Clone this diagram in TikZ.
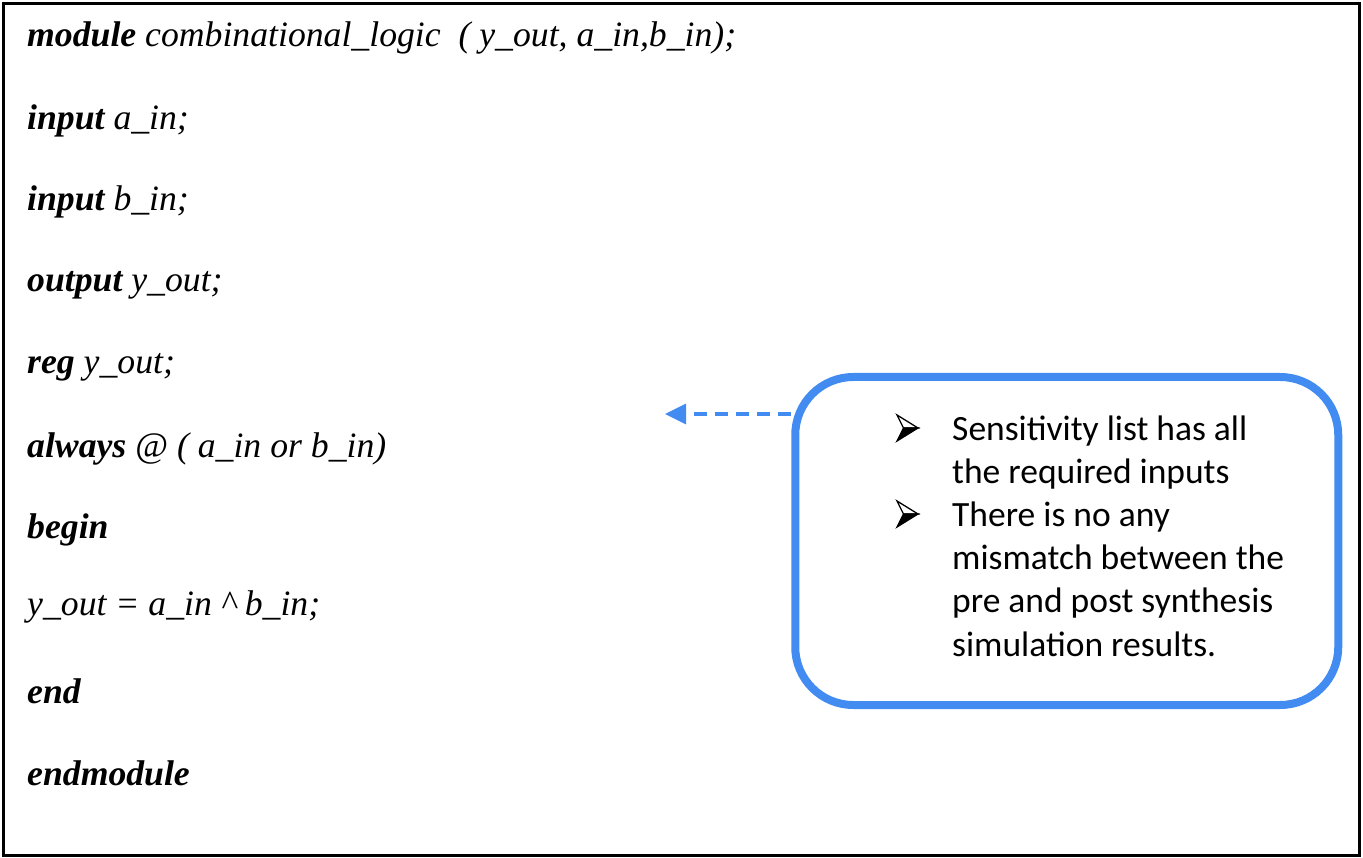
\documentclass[tikz,border=0pt]{standalone}
\usepackage{fontspec}
\setmainfont{Liberation Serif}
\newfontfamily\calfont{Carlito}
\usetikzlibrary{arrows.meta}
\definecolor{callblue}{RGB}{66,139,240}
\begin{document}
\begin{tikzpicture}[x=1pt,y=-1pt,
  code/.style={anchor=base west,inner sep=0pt,font=\fontsize{35.7}{40}\selectfont\itshape},
  note/.style={anchor=base west,inner sep=0pt,font=\fontsize{35.5}{43}\selectfont\calfont},
  bulletpic/.pic={
    \draw[line width=1.3pt,line join=miter] (0,0) -- (21,13) -- (6.5,13) -- cycle;
    \filldraw[line width=1.3pt,line join=miter] (6.5,13) -- (21,13) -- (0,26) -- cycle;
  },
  callbox/.style={draw=callblue,line width=8pt,rounded corners=58pt,minimum width=543pt,minimum height=328pt,inner sep=0pt},
  pointer/.style={draw=callblue,line width=3.5pt,dash pattern=on 13pt off 8pt,-{Triangle[length=21pt,width=20pt]}}
]
\useasboundingbox (0,0) rectangle (1363,858);
\node[draw=black,line width=2.5pt,minimum width=1356pt,minimum height=852pt,inner sep=0pt] (frame) at (681.5,429.5) {};

\node[code] (l1) at (27,47) {\textbf{module} combinational\_logic \ ( y\_out, a\_in,b\_in);};
\node[code] (l2) at (27,130) {\textbf{input} a\_in;};
\node[code] (l3) at (27,211) {\textbf{input} b\_in;};
\node[code] (l4) at (27,292) {\textbf{output} y\_out;};
\node[code] (l5) at (27,374) {\textbf{reg} y\_out;};
\node[code] (l6) at (27,457) {\textbf{always} \textup{@} ( a\_in or b\_in)};
\node[code] (l7) at (27,538) {\textbf{begin}};
\node[code] (l8) at (27,615) {y\_out = a\_in \textasciicircum{} b\_in;};
\node[code] (l9) at (27,703) {\textbf{end}};
\node[code] (l10) at (27,785) {\textbf{endmodule}};

\node[callbox] (callout) at (1066.75,541) {};
\pic (b1) at (897,415) {bulletpic};
\node[note] (t1) at (952,440) {Sensitivity list has all};
\node[note] (t2) at (952,483) {the required inputs};
\pic (b2) at (897,501) {bulletpic};
\node[note] (t3) at (952,526) {There is no any};
\node[note] (t4) at (952,569) {mismatch between the};
\node[note] (t5) at (952,612) {pre and post synthesis};
\node[note] (t6) at (952,656) {simulation results.};

\coordinate (tip) at (665,414);
\draw[pointer] (tip -| callout.west) -- (tip);
\end{tikzpicture}
\end{document}
